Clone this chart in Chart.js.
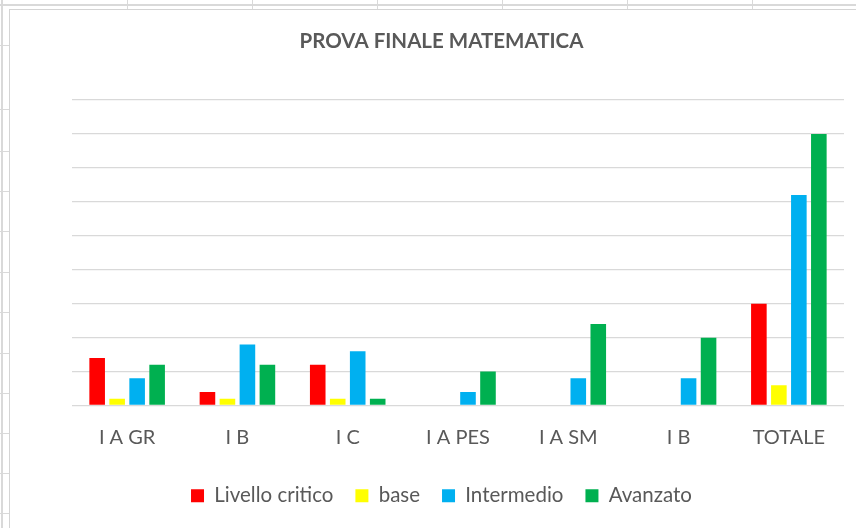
<!DOCTYPE html>
<html>
<head>
<meta charset="utf-8">
<script src="https://cdn.jsdelivr.net/npm/chart.js@4"></script>
<style>
  html, body { margin: 0; padding: 0; background: #fff; overflow: hidden; }
  body { width: 856px; height: 528px; position: relative; }
  .sheet-h { position: absolute; left: 0; top: 4px; width: 856px; height: 2px; background: #d9d9d9; }
  .sheet-v { position: absolute; left: 1px; top: 0; width: 2px; height: 528px; background: #d9d9d9; }
  .tick-v { position: absolute; top: 0; width: 1px; height: 9px; background: #d9d9d9; }
  .tick-h { position: absolute; left: 0; width: 9px; height: 1px; background: #d9d9d9; }
  .frame { position: absolute; left: 9px; top: 9px; width: 847px; height: 519px;
           border-left: 1px solid #d4d4d4; border-top: 1px solid #d4d4d4; }
  #wrap { position: absolute; left: 10px; top: 10px; width: 863px; height: 518px; }
</style>
</head>
<body>
<div class="sheet-h"></div>
<div class="sheet-v"></div>
<div class="frame"></div>
<div id="wrap"><canvas id="chart"></canvas></div>
<script>
/* ─── Data ───────────────────────────────────────────────── */
const CATEGORIES = ['I A GR', 'I B', 'I C', 'I A PES', 'I A SM', 'I B', 'TOTALE'];
const CRITICO    = [7, 2, 6, 0, 0, 0, 15];
const BASE       = [1, 1, 1, 0, 0, 0, 3];
const INTERMEDIO = [4, 9, 8, 2, 4, 4, 31];
const AVANZATO   = [6, 6, 1, 5, 12, 10, 40];

/* ─── Spreadsheet grid behind the chart ──────────────────── */
[127, 252, 377, 502, 627, 752].forEach(x => {
  const d = document.createElement('div');
  d.className = 'tick-v'; d.style.left = x + 'px';
  document.body.appendChild(d);
});
[45, 109, 151, 191, 231, 272, 312, 353, 393, 433, 473, 513].forEach(y => {
  const d = document.createElement('div');
  d.className = 'tick-h'; d.style.top = y + 'px';
  document.body.appendChild(d);
});

/* ─── Chart ──────────────────────────────────────────────── */
const FONT = 'Lato, "Open Sans", sans-serif';
const TEXT = '#595959';

function series(label, data, color) {
  return {
    label, data,
    backgroundColor: color,
    borderWidth: 0,
    categoryPercentage: 0.725,
    barPercentage: 0.78
  };
}

new Chart(document.getElementById('chart'), {
  type: 'bar',
  data: {
    labels: CATEGORIES,
    datasets: [
      series('Livello critico', CRITICO, '#ff0000'),
      series('base', BASE, '#ffff00'),
      series('Intermedio', INTERMEDIO, '#00b0f0'),
      series('Avanzato', AVANZATO, '#00b050')
    ]
  },
  options: {
    responsive: true,
    maintainAspectRatio: false,
    animation: false,
    layout: { padding: { left: 29, right: 29, top: 0, bottom: 12 } },
    plugins: {
      title: {
        display: true,
        text: 'PROVA FINALE MATEMATICA',
        color: TEXT,
        font: { family: FONT, size: 20.5, weight: 'bold' },
        padding: { top: 19.5, bottom: 46 }
      },
      legend: {
        position: 'bottom',
        labels: {
          color: TEXT,
          font: { family: FONT, size: 20.5 },
          boxWidth: 13, boxHeight: 13,
          padding: 22
        }
      },
      tooltip: { enabled: false }
    },
    scales: {
      x: {
        grid: { display: false, drawTicks: false },
        border: { display: false },
        ticks: { color: TEXT, font: { family: FONT, size: 20, lineHeight: 1.2 }, padding: 20, maxRotation: 0 },
        afterFit: s => { s.height = 58; }
      },
      y: {
        min: 0, max: 45,
        grid: { color: '#d9d9d9', lineWidth: 1.3, drawTicks: false },
        border: { display: false },
        ticks: { display: false, stepSize: 5 },
        afterFit: s => { s.width = 33; }
      }
    }
  }
});
</script>
</body>
</html>
